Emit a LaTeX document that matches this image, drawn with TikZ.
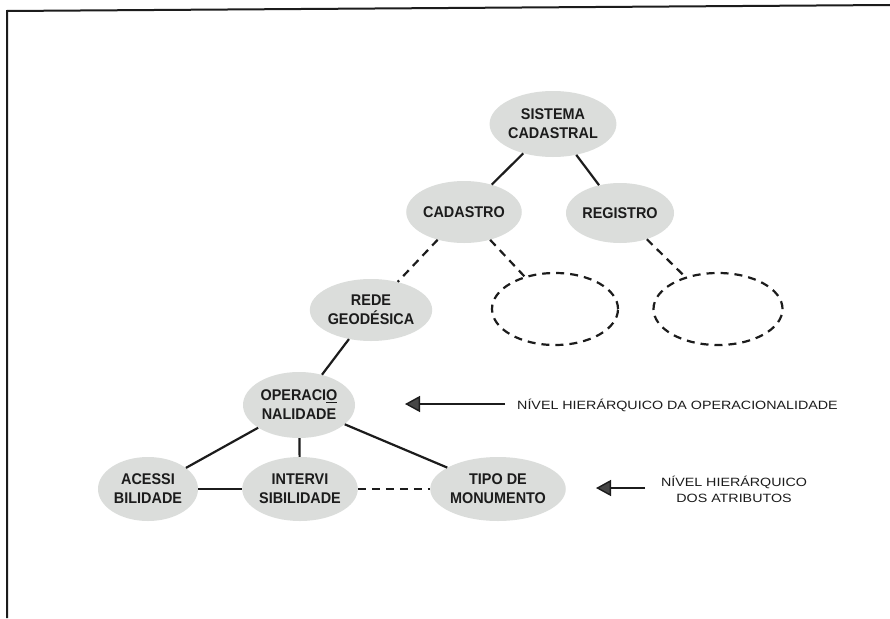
\documentclass[tikz,border=0pt]{standalone}
\usepackage{fontspec}
\setmainfont{Liberation Sans}
\newfontfamily\notefont[FakeStretch=1.19]{Liberation Sans}
\newfontfamily\bubfont[FakeStretch=0.93]{Liberation Sans}
\usetikzlibrary{shapes.geometric,arrows.meta}
\definecolor{bubble}{RGB}{219,221,219}
\definecolor{ink}{RGB}{28,28,28}
\begin{document}
\begin{tikzpicture}[x=1pt,y=-1pt,
  bub/.style={ellipse,fill=bubble,inner sep=0pt,align=center,
    font=\bubfont\fontsize{15.5}{19}\selectfont\bfseries,text=ink},
  emptybub/.style={ellipse,draw=ink,line width=2.2pt,dash pattern=on 8pt off 6pt,inner sep=0pt},
  link/.style={draw=ink,line width=2.2pt},
  dlink/.style={link,dash pattern=on 8pt off 6pt},
  note/.style={font=\notefont\fontsize{12}{16}\selectfont,text=ink,inner sep=0pt,align=center},
  pointer/.style={draw=ink,line width=1.4pt,-{Triangle[length=15pt,width=16pt,fill=gray!55!black]}}]
\useasboundingbox (0,0) rectangle (890,618);
\fill[white] (0,0) rectangle (890,618);
% frame
\coordinate (fa) at (7,618);
\coordinate (fb) at (7,11);
\coordinate (fc) at (890,5);
\draw[line width=2pt,ink] (fa) -- (fb) -- (fc);
% nodes
\node[bub,minimum width=120pt,minimum height=66pt] (sc) at (553,124) {SISTEMA\\CADASTRAL};
\node[bub,minimum width=114pt,minimum height=62pt] (cad) at (464,212) {CADASTRO};
\node[bub,minimum width=108pt,minimum height=60pt] (reg) at (620,213) {REGISTRO};
\node[emptybub,minimum width=126pt,minimum height=72pt] (e1) at (555,309) {};
\node[emptybub,minimum width=129pt,minimum height=72pt] (e2) at (718,309) {};
\node[bub,minimum width=100pt,minimum height=62pt] (rede) at (371,310) {REDE\\GEODÉSICA};
\node[bub,minimum width=112pt,minimum height=66pt] (oper) at (299,405) {OPERACI\underline{O}\\NALIDADE};
\node[bub,minimum width=100pt,minimum height=64pt] (ace) at (148,489) {ACESSI\\BILIDADE};
\node[bub,minimum width=112pt,minimum height=64pt] (int) at (300,489) {INTERVI\\SIBILIDADE};
\node[bub,minimum width=108pt,minimum height=64pt] (tipo) at (498,489) {TIPO DE\\MONUMENTO};
% connectors
\draw[link] (sc) -- (cad);
\draw[link] (sc) -- (reg);
\draw[dlink] (cad) -- (rede);
\draw[dlink] (cad) -- (e1);
\draw[dlink] (reg) -- (e2);
\draw[link] (rede) -- (oper);
\draw[link] (oper) -- (ace);
\draw[link] (oper) -- (int);
\draw[link] (oper) -- (tipo);
\draw[link] (ace) -- (int);
\draw[dlink] (int) -- (tipo);
% notes
\coordinate (p1s) at (505,404);
\coordinate (p1e) at (405,404);
\draw[pointer] (p1s) -- (p1e);
\node[note,anchor=west] (n1) at (517,405) {NÍVEL HIERÁRQUICO DA OPERACIONALIDADE};
\coordinate (p2s) at (645,488);
\coordinate (p2e) at (596,488);
\draw[pointer] (p2s) -- (p2e);
\node[note] (n2) at (734,489) {NÍVEL HIERÁRQUICO\\DOS ATRIBUTOS};
\end{tikzpicture}
\end{document}
